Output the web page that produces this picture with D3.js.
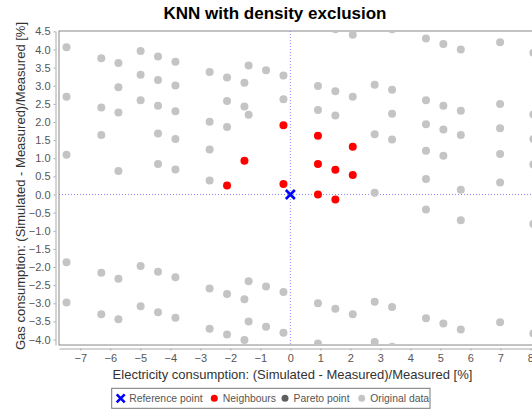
<!DOCTYPE html>
<html>

<head>
  <title>KNN with density exclusion</title>
  <meta charset="utf-8" />
  <script src="https://d3js.org/d3.v7.min.js"></script>
  <style>
    body {
      margin: 0;
      background: white;
      font-family: 'Liberation Sans', Arial, sans-serif;
    }

    .tick text {
      fill: #555;
      font-size: 11px;
    }

    .axis path,
    .axis line {
      stroke: #aaa;
    }
  </style>
</head>

<body>

  <svg id="p1" width="532" height="414"></svg>

  <script>
    // original data cloud (electricity %, gas %)
    const originalData = [
      [-7.46, 4.06], [-7.46, 2.70], [-7.46, 1.10], [-6.30, 3.76], [-6.30, 2.40], [-6.30, 1.64],
      [-5.73, 3.63], [-5.73, 2.96], [-5.73, 2.26], [-5.73, 0.65], [-4.99, 3.96], [-4.99, 3.30],
      [-4.99, 2.60], [-4.41, 3.81], [-4.41, 3.16], [-4.41, 2.45], [-4.41, 1.68], [-4.41, 0.84],
      [-3.83, 3.66], [-3.83, 3.01], [-3.83, 2.30], [-3.83, 1.53], [-3.83, 0.69], [-2.69, 3.38],
      [-2.69, 2.01], [-2.69, 1.24], [-2.69, 0.39], [-2.11, 3.23], [-2.11, 2.58], [-2.11, 1.86],
      [-1.39, 3.56], [-1.53, 3.08], [-1.53, 2.43], [-1.39, 2.20], [-0.81, 3.43], [-0.23, 3.28],
      [-0.23, 2.63], [1.50, 4.56], [2.08, 4.41], [3.39, 4.56], [0.92, 2.99], [0.92, 2.33],
      [1.50, 2.85], [1.50, 2.18], [2.08, 2.70], [2.81, 3.03], [2.81, 1.66], [2.81, 0.05],
      [3.39, 2.89], [3.39, 2.23], [3.39, 1.52], [4.52, 4.30], [5.10, 4.15], [5.68, 4.00],
      [4.52, 2.60], [5.10, 2.45], [5.68, 2.31], [4.52, 1.94], [5.10, 1.79], [5.68, 1.64],
      [4.52, 1.21], [5.10, 1.07], [4.52, 0.43], [5.68, 0.13], [6.99, 4.20], [6.99, 2.50],
      [6.99, 1.83], [6.99, 1.12], [6.99, 0.33], [8.10, 3.91], [8.10, 2.21], [8.10, 1.53],
      [8.10, 0.83], [4.52, -0.41], [5.68, -0.71], [8.10, -0.81],
      [-7.46, -1.87], [-7.46, -2.98], [-6.30, -2.16], [-6.30, -3.30], [-5.73, -2.32], [-5.73, -3.44],
      [-4.99, -1.97], [-4.99, -3.08], [-4.41, -2.13], [-4.41, -3.25], [-3.83, -2.28], [-3.83, -3.40],
      [-2.69, -2.59], [-2.69, -3.70], [-2.11, -2.74], [-2.11, -3.86], [-1.39, -2.39], [-1.53, -2.89],
      [-1.39, -3.50], [-1.53, -4.01], [-0.81, -2.54], [-0.81, -3.65], [-0.23, -2.69], [-0.23, -3.81],
      [0.92, -3.00], [1.50, -3.15], [2.08, -3.30], [2.81, -2.96], [3.39, -3.10], [4.52, -3.41],
      [5.10, -3.56], [5.68, -3.72], [6.99, -3.52], [8.10, -3.83], [0.92, -4.11], [2.81, -4.07],
      [3.39, -4.20]
    ];

    const neighbours = [
      [-2.11, 0.25], [-1.53, 0.93], [-0.23, 1.91], [-0.23, 0.29], [0.92, 1.62], [0.92, 0.84],
      [0.92, 0.00], [1.50, 0.68], [1.50, -0.14], [2.08, 1.32], [2.08, 0.54]
    ];

    const referencePoint = [0, 0];

    const xTicks = [-7, -6, -5, -4, -3, -2, -1, 0, 1, 2, 3, 4, 5, 6, 7, 8];
    const yTicks = [4.5, 4.0, 3.5, 3.0, 2.5, 2.0, 1.5, 1.0, 0.5, 0.0, -0.5, -1.0, -1.5, -2.0, -2.5, -3.0, -3.5, -4.0];

    const legendNames = ["Reference point", "Neighbours", "Pareto point", "Original data"];
    const legendColors = ["#0000ff", "#ff0000", "#606060", "#c4c4c4"];

    const svg = d3.select("#p1");
    const plot = { left: 59, top: 31, right: 540, bottom: 345 };

    const xScale = d3.scaleLinear().domain([-7.71, 8.32]).range([plot.left, plot.right]);
    const yScale = d3.scaleLinear().domain([-4.15, 4.51]).range([plot.bottom, plot.top]);

    // title
    svg.append("text")
      .attr("x", 275)
      .attr("y", 19)
      .attr("text-anchor", "middle")
      .style("font-size", "17px")
      .style("font-weight", "bold")
      .text("KNN with density exclusion");

    // plot background + clip
    svg.append("clipPath").attr("id", "clip")
      .append("rect")
      .attr("x", plot.left).attr("y", plot.top)
      .attr("width", plot.right - plot.left).attr("height", plot.bottom - plot.top);

    svg.append("rect")
      .attr("x", plot.left).attr("y", plot.top)
      .attr("width", plot.right - plot.left).attr("height", plot.bottom - plot.top)
      .attr("fill", "white")
      .attr("stroke", "#888")
      .attr("stroke-width", 1);

    const g = svg.append("g").attr("clip-path", "url(#clip)");

    // crosshair at reference point
    g.append("line")
      .attr("x1", xScale(referencePoint[0])).attr("x2", xScale(referencePoint[0]))
      .attr("y1", plot.top).attr("y2", plot.bottom)
      .attr("stroke", "#8a8aff").attr("stroke-width", 1).attr("stroke-dasharray", "1,2");
    g.append("line")
      .attr("x1", plot.left).attr("x2", plot.right)
      .attr("y1", yScale(referencePoint[1])).attr("y2", yScale(referencePoint[1]))
      .attr("stroke", "#8a8aff").attr("stroke-width", 1).attr("stroke-dasharray", "1,2");

    g.selectAll("circle.orig").data(originalData)
      .join("circle")
      .attr("class", "orig")
      .attr("r", 4)
      .attr("fill", legendColors[3])
      .attr("cx", d => xScale(d[0]))
      .attr("cy", d => yScale(d[1]));

    g.selectAll("circle.nb").data(neighbours)
      .join("circle")
      .attr("class", "nb")
      .attr("r", 4)
      .attr("fill", legendColors[1])
      .attr("cx", d => xScale(d[0]))
      .attr("cy", d => yScale(d[1]));

    const rx = xScale(referencePoint[0]);
    const ry = yScale(referencePoint[1]);
    g.append("path")
      .attr("d", `M${rx - 4.5},${ry - 4.5}L${rx + 4.5},${ry + 4.5}M${rx - 4.5},${ry + 4.5}L${rx + 4.5},${ry - 4.5}`)
      .attr("stroke", legendColors[0])
      .attr("stroke-width", 2.6)
      .attr("fill", "none");

    // axes (offset from plot like the original)
    const bottomAxis = d3.axisBottom(xScale).tickValues(xTicks).tickSize(2).tickSizeOuter(0).tickPadding(4);
    svg.append("g")
      .attr("class", "x axis")
      .attr("transform", "translate(0," + (plot.bottom + 3.5) + ")")
      .call(bottomAxis);

    const leftAxis = d3.axisLeft(yScale).tickValues(yTicks).tickFormat(d3.format(".1f"))
      .tickSize(2).tickSizeOuter(0).tickPadding(3);
    svg.append("g")
      .attr("class", "y axis")
      .attr("transform", "translate(" + (plot.left - 3.5) + ",0)")
      .call(leftAxis);

    svg.selectAll(".tick text").style("font-family", "'Liberation Sans', Arial, sans-serif");

    // axis labels
    svg.append("text")
      .attr("x", 292.5)
      .attr("y", 379)
      .attr("text-anchor", "middle")
      .style("font-size", "13px")
      .attr("fill", "#333")
      .text("Electricity consumption: (Simulated - Measured)/Measured [%]");

    svg.append("text")
      .attr("transform", "translate(25," + ((plot.top + plot.bottom) / 2 - 2) + ")rotate(-90)")
      .attr("text-anchor", "middle")
      .style("font-size", "13px")
      .attr("fill", "#333")
      .text("Gas consumption: (Simulated - Measured)/Measured [%]");

    // legend
    const legend = svg.append("g");
    const legendY = 398.3;
    const legendX = [120.7, 214.3, 285, 361.7];
    legend.append("rect")
      .attr("x", 111.7).attr("y", 388.3)
      .attr("width", 318.3).attr("height", 20)
      .attr("fill", "white")
      .attr("stroke", "#777")
      .attr("stroke-width", 1);
    legendNames.forEach((name, i) => {
      const cx = legendX[i];
      if (i === 0) {
        legend.append("path")
          .attr("d", `M${cx - 4},${legendY - 4}L${cx + 4},${legendY + 4}M${cx - 4},${legendY + 4}L${cx + 4},${legendY - 4}`)
          .attr("stroke", legendColors[i]).attr("stroke-width", 2.6);
      } else {
        legend.append("circle")
          .attr("cx", cx).attr("cy", legendY).attr("r", 3.5)
          .attr("fill", legendColors[i]);
      }
      legend.append("text")
        .attr("x", cx + 8.5)
        .attr("y", legendY + 3.8)
        .style("font-size", "10.4px")
        .attr("fill", "#555")
        .text(name);
    });
  </script>
</body>

</html>
